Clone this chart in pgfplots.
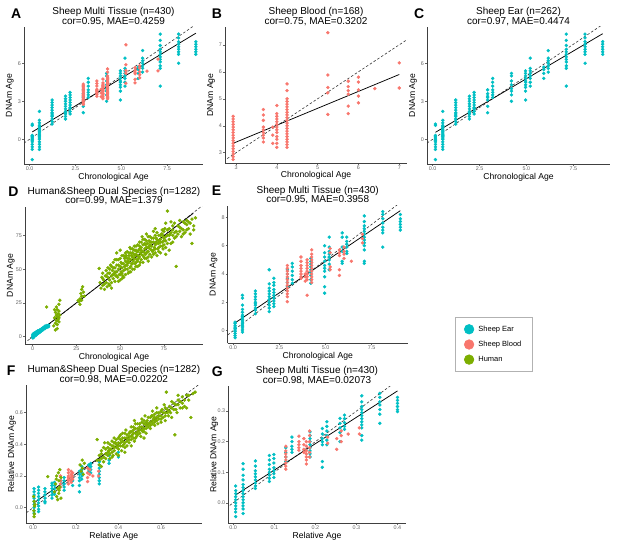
\documentclass[border=0pt]{standalone}
\usepackage{fontspec}
\setmainfont{Liberation Sans}
\usepackage{pgfplots}
\usepackage{pgfplotstable}
\pgfplotsset{compat=1.18}
\definecolor{cear}{HTML}{00BFC4}
\definecolor{cblood}{HTML}{F8766D}
\definecolor{chum}{HTML}{7CAE00}

\pgfplotsset{
 panel/.style={
  scale only axis, anchor=south west,
  axis x line*=bottom, axis y line*=left,
  axis line style={black!75, line width=0.55pt},
  tick align=outside, major tick length=2pt,
  every tick/.style={black!60, line width=0.5pt},
  ticklabel style={font=\fontsize{5.4}{5.4}\selectfont, text=black!60},
  xticklabel style={inner sep=0.7pt},
  yticklabel style={inner sep=1pt},
  every axis title/.style={font=\fontsize{10}{9.5}\selectfont, align=center, at={(axis description cs:0.5,1)}, anchor=south, inner sep=0pt, yshift=1.3pt},
  xlabel style={font=\fontsize{8.6}{9}\selectfont, at={([yshift=-15pt]axis description cs:0.5,0)}, anchor=base, inner sep=0pt},
  ylabel style={font=\fontsize{8.6}{9}\selectfont, at={([xshift=-12pt]axis description cs:0,0.5)}, anchor=base, inner sep=0pt},
 },
 ear/.style={only marks, mark=*, mark size=1.5pt, color=cear, mark options={draw=none}},
 blood/.style={only marks, mark=*, mark size=1.5pt, color=cblood, mark options={draw=none}},
 hum/.style={only marks, mark=*, mark size=1.5pt, color=chum, mark options={draw=none}},
 fit/.style={black, line width=0.75pt, no marks},
 idl/.style={black!80, line width=0.6pt, dash pattern=on 2.5pt off 2pt, no marks},
}

\pgfplotstableread[row sep=\\]{
x y\\
0.15 1.2\\0.15 1.1\\0.15 0.3\\0.15 0.1\\0.15 0.0\\0.15 -0.2\\0.15 -0.4\\0.15 -0.6\\0.15 -0.8\\0.15 -1.6\\0.15 0.2\\0.15 -0.1\\
0.54 2.2\\0.54 1.5\\0.54 1.3\\0.54 1.0\\0.54 0.8\\0.54 0.6\\0.54 0.5\\0.54 0.4\\0.54 0.3\\0.54 0.2\\0.54 0.1\\0.54 0\\0.54 -0.2\\0.54 -0.4\\0.54 -0.6\\0.54 -0.8\\0.54 0.7\\0.54 0.9\\0.54 1.1\\
1.23 3.1\\1.23 2.9\\1.23 2.7\\1.23 2.5\\1.23 2.3\\1.23 2.1\\1.23 2.0\\1.23 1.9\\1.23 1.8\\1.23 1.6\\1.23 1.4\\1.23 1.2\\
1.96 3.4\\1.96 3.2\\1.96 3.0\\1.96 2.8\\1.96 2.6\\1.96 2.4\\1.96 2.2\\1.96 2.1\\1.96 2.0\\1.96 1.8\\1.96 1.6\\
2.21 3.7\\2.21 3.5\\2.21 3.3\\2.21 3.1\\2.21 2.9\\2.21 2.7\\2.21 2.5\\2.21 2.4\\2.21 2.2\\2.21 2.0\\
2.93 3.9\\2.93 3.6\\2.93 3.4\\2.93 3.3\\2.93 3.1\\2.93 2.6\\2.93 2.1\\
3.2 4.8\\3.2 4.5\\3.2 4.2\\3.2 3.9\\3.2 3.7\\3.2 3.5\\3.2 3.3\\
4.2 5.2\\4.2 5.0\\4.2 4.6\\4.2 4.3\\4.2 4.0\\4.2 3.8\\4.2 3.5\\4.2 3.0\\
4.95 5.4\\4.95 5.2\\4.95 5.0\\4.95 4.8\\4.95 4.6\\4.95 4.5\\4.95 4.3\\4.95 4.1\\4.95 3.8\\4.95 3.1\\
5.2 6.4\\5.2 5.6\\5.2 5.4\\5.2 5.2\\5.2 5.0\\5.2 4.8\\5.2 4.5\\5.2 4.2\\
5.92 5.7\\5.92 5.5\\5.92 5.2\\5.92 4.8\\
6.16 7.0\\6.16 6.4\\6.16 6.2\\6.16 6.0\\6.16 5.8\\6.16 5.6\\6.16 5.3\\
7.12 8.3\\7.12 7.8\\7.12 7.4\\7.12 7.1\\7.12 6.9\\7.12 6.7\\7.12 6.5\\7.12 6.3\\7.12 6.1\\7.12 5.8\\7.12 5.6\\7.12 4.2\\
8.12 8.3\\8.12 8.0\\8.12 7.7\\8.12 7.5\\8.12 7.3\\8.12 7.1\\8.12 6.9\\8.12 6.7\\8.12 6.0\\
9.06 7.7\\9.06 7.5\\9.06 7.3\\9.06 7.1\\9.06 6.9\\9.06 6.7\\
}\earAC

\pgfplotstableread[row sep=\\]{
x y\\
2.93 4.35\\2.93 4.25\\2.93 4.15\\2.93 4.05\\2.93 3.95\\2.93 3.85\\2.93 3.75\\2.93 3.65\\2.93 3.55\\2.93 3.45\\2.93 3.35\\2.93 3.25\\2.93 3.15\\2.93 3.05\\2.93 2.95\\2.93 2.85\\2.93 2.75\\
3.67 4.6\\3.67 4.4\\3.67 4.2\\3.67 3.95\\3.67 3.85\\3.67 3.75\\3.67 3.65\\3.67 3.55\\3.67 3.4\\
3.9 3.95\\3.9 3.65\\3.9 3.35\\
4.0 4.75\\4.0 4.45\\4.0 4.35\\4.0 4.25\\4.0 4.15\\4.0 4.05\\4.0 3.95\\4.0 3.85\\4.0 3.75\\4.0 3.6\\4.0 3.5\\4.0 3.35\\4.0 3.2\\
4.25 5.55\\4.25 5.3\\4.25 5.0\\4.25 4.9\\4.25 4.8\\4.25 4.7\\4.25 4.6\\4.25 4.5\\4.25 4.4\\4.25 4.3\\4.25 4.2\\4.25 4.1\\4.25 4.0\\4.25 3.9\\4.25 3.8\\4.25 3.7\\4.25 3.6\\4.25 3.5\\4.25 3.4\\4.25 3.3\\4.25 3.2\\
5.25 7.45\\5.25 5.88\\5.25 5.42\\5.25 5.22\\5.25 4.42\\
5.75 5.65\\5.75 5.45\\5.75 5.3\\5.75 5.17\\5.75 4.73\\5.75 4.45\\
6.0 5.8\\6.0 5.62\\6.0 5.33\\6.0 5.1\\6.0 4.85\\
6.4 5.38\\
7.0 6.33\\7.0 5.4\\
}\bloodAB

\pgfplotstableread[row sep=\\]{
x y\\
0.1 0.6\\0.1 0.5\\0.1 0.35\\0.1 0.25\\0.1 0.15\\0.1 0.05\\0.1 -0.05\\0.1 -0.2\\0.1 -0.35\\0.1 -0.5\\
0.5 2.5\\0.5 2.3\\0.5 1.8\\0.5 1.5\\0.5 1.3\\0.5 1.1\\0.5 1.0\\0.5 0.9\\0.5 0.8\\0.5 0.7\\0.5 0.6\\0.5 0.5\\0.5 0.4\\0.5 0.3\\0.5 0.2\\0.5 0.05\\0.5 -0.1\\
1.2 2.8\\1.2 2.6\\1.2 2.4\\1.2 2.2\\1.2 2.0\\1.2 1.9\\1.2 1.8\\1.2 1.6\\1.2 1.45\\1.2 1.2\\
1.95 4.3\\1.95 3.3\\1.95 3.0\\1.95 2.8\\1.95 2.6\\1.95 2.4\\1.95 2.2\\1.95 2.0\\1.95 1.8\\1.95 1.6\\1.95 1.35\\
2.2 3.7\\2.2 3.4\\2.2 3.2\\2.2 2.9\\2.2 2.7\\2.2 2.5\\2.2 2.3\\2.2 2.1\\2.2 1.9\\2.2 1.7\\
2.93 4.3\\2.93 4.0\\2.93 3.7\\2.93 3.4\\2.93 3.1\\
3.2 4.75\\3.2 4.5\\3.2 4.2\\3.2 3.9\\3.2 3.6\\3.2 3.35\\
4.2 5.1\\4.2 4.9\\4.2 4.7\\4.2 4.5\\4.2 4.3\\4.2 4.1\\4.2 3.9\\4.2 3.6\\4.2 3.35\\
4.95 6.0\\4.95 5.5\\4.95 5.2\\4.95 4.9\\4.95 4.6\\4.95 4.4\\4.95 4.2\\4.95 3.8\\4.95 3.1\\4.95 2.65\\
5.2 6.6\\5.2 5.9\\5.2 5.6\\5.2 5.4\\5.2 5.2\\5.2 5.0\\5.2 4.7\\5.2 4.3\\
5.9 6.9\\5.9 6.6\\5.9 5.9\\5.9 5.6\\5.9 4.9\\5.9 4.75\\
6.15 6.6\\6.15 6.3\\6.15 6.1\\6.15 5.9\\6.15 5.6\\6.15 5.45\\
7.1 8.1\\7.1 7.7\\7.1 7.4\\7.1 7.2\\7.1 7.0\\7.1 6.8\\7.1 6.6\\7.1 6.4\\7.1 6.2\\7.1 6.0\\7.1 5.7\\7.1 4.9\\7.1 4.75\\
8.1 8.4\\8.1 8.2\\8.1 7.9\\8.1 7.6\\8.1 7.3\\8.1 7.1\\8.1 6.9\\8.1 5.9\\
9.05 8.2\\9.05 7.9\\9.05 7.7\\9.05 7.5\\9.05 7.3\\9.05 7.1\\
}\earE

\pgfplotstableread[row sep=\\]{
x y\\
2.93 4.6\\2.93 4.4\\2.93 4.2\\2.93 4.0\\2.93 3.8\\2.93 3.6\\2.93 3.4\\2.93 3.2\\2.93 3.0\\2.93 2.8\\2.93 2.6\\2.93 2.4\\2.93 2.05\\
3.67 5.2\\3.67 4.9\\3.67 4.6\\3.67 4.4\\3.67 4.2\\3.67 4.0\\3.67 3.8\\3.67 3.7\\
3.9 4.0\\3.9 3.8\\3.9 3.5\\
4.0 5.0\\4.0 4.8\\4.0 4.6\\4.0 4.4\\4.0 4.2\\4.0 4.0\\4.0 3.8\\4.0 3.6\\4.0 2.5\\
4.25 5.7\\4.25 5.4\\4.25 5.2\\4.25 5.0\\4.25 4.8\\4.25 4.6\\4.25 4.4\\4.25 4.2\\4.25 4.0\\4.25 3.8\\4.25 3.6\\4.25 3.4\\
5.25 5.8\\5.25 5.5\\5.25 4.5\\5.25 4.3\\
5.75 5.7\\5.75 5.5\\5.75 5.3\\5.75 4.3\\5.75 3.9\\
6.0 5.9\\6.0 5.6\\6.0 5.4\\6.0 5.1\\
6.4 4.9\\
7.0 6.8\\7.0 6.5\\7.0 6.2\\
}\bloodE

\pgfplotstableread[row sep=\\]{
x y\\
0.1 -1\\0.1 -0.3\\0.1 0.4\\0.1 1.1\\0.1 1.8\\0.5 -0.5\\0.5 0.3\\0.5 1.0\\0.5 1.6\\0.5 2.4\\
1.2 0.6\\1.2 1.3\\1.2 2.0\\1.2 2.8\\1.95 1.2\\1.95 2.0\\1.95 2.7\\1.95 3.4\\2.2 1.6\\2.2 2.4\\2.2 3.1\\2.2 3.8\\
2.9 2.3\\2.9 3.0\\2.9 3.7\\2.9 4.3\\3.2 2.6\\3.2 3.4\\3.2 4.1\\3.67 3.1\\3.67 3.8\\3.67 4.5\\4.0 3.3\\4.0 4.0\\4.0 4.8\\
4.2 3.6\\4.2 4.4\\4.2 5.1\\4.95 4.2\\4.95 5.0\\4.95 5.7\\5.2 4.5\\5.2 5.3\\5.2 6.0\\5.9 5.2\\5.9 5.9\\5.9 6.6\\
6.15 5.4\\6.15 6.2\\6.15 6.9\\7.1 6.1\\7.1 6.8\\7.1 7.5\\7.1 8.0\\8.1 6.9\\8.1 7.6\\8.1 8.3\\9.05 7.4\\9.05 8.0\\9.05 8.6\\
}\earD

\pgfplotstableread[row sep=\\]{
x y\\
2.9 3\\4.0 4\\4.25 4.5\\5.25 5.5\\7 6.5\\
}\bloodD

\pgfplotstableread[row sep=\\]{
x y\\
12 8\\12.5 14\\13 10\\13 18\\13.5 12\\13.5 22\\14 15\\14 9\\14 20\\14.5 13\\14.5 17\\15 24\\15 11\\15 19\\15.5 16\\15.5 27\\14 6\\13 5\\12.5 20\\15 14\\14 12\\13.5 16\\8 22\\
27 28\\27.5 32\\28 35\\28 30\\28.5 37\\29 33\\26.5 26\\27 24\\29.5 30\\28 27\\26 26.8\\
38 50.5\\38.5 40\\39 36\\39.5 44\\40 38\\40 47\\40.5 42\\41 35\\41.5 45\\42 40\\42 49\\42.5 37\\
43 44\\43 51\\43.5 39\\44 47\\44 42\\44.5 53\\45 45\\45 40\\45.5 49\\46 43\\46 55\\46.5 47\\47 51\\47 41\\47.5 45\\45 36\\46 51\\47 57\\
48 48\\48 53\\48.5 44\\49 50\\49 57\\49.5 46\\50 52\\50 42\\50.5 55\\50.5 48\\51 60\\51 51\\51.5 45\\52 54\\52 49\\52.5 58\\48 62\\49 41\\50 64\\51 47\\52 44\\52.5 52\\
53 56\\53 50\\53.5 60\\54 53\\54 58\\54.5 47\\55 55\\55 62\\55.5 51\\56 57\\56 65\\56.5 54\\57 59\\57 50\\53 46\\54 63\\55 58\\56 52\\57 62\\57.5 56\\55.5 66\\54.5 56\\53.5 53\\56.5 60\\
58 58\\58 64\\58.5 54\\59 61\\59 67\\59.5 57\\60 60\\60 52\\60.5 64\\61 59\\61 70\\61.5 62\\62 57\\62 66\\58 50\\59 55\\60 68\\60.5 58\\61 65\\62 61\\62.5 74\\59.5 63\\58.5 60\\61.5 55\\
63 63\\63 68\\63.5 59\\64 65\\64 72\\64.5 61\\65 66\\65 58\\65.5 69\\66 63\\66 74\\66.5 67\\67 61\\67 70\\63 55\\64 62\\65 76\\66 59\\67 65\\64.5 68\\66.5 71\\65.5 63\\
68 67\\68 73\\68.5 63\\69 70\\69 78\\69.5 66\\70 68\\70 62\\70.5 73\\71 69\\71 77\\71.5 65\\72 71\\72 66\\68 59\\70 80\\71 60\\72 75\\69 64\\70.5 70\\
73 72\\73 67\\73.5 76\\74 70\\74 79\\74.5 65\\75 73\\75 68\\75.5 80\\76 71\\76 66\\77 75\\77 93\\73 62\\76 84\\74.5 74\\78 64\\76 61\\
78 72\\78 80\\78.5 76\\79 69\\79 85\\80 75\\80 79\\81 73\\81 84\\82 52\\82 78\\80 70\\
83 76\\84 81\\84 86\\85 74\\86 79\\86 85\\87 77\\88 83\\88 86\\89 80\\90 84\\91 69\\92 82\\93 88\\90 76\\
40 43\\41 39\\42 45\\43 47\\44 38\\44 50\\45 52\\46 46\\47 48\\48 45\\48 57\\49 53\\50 46\\50 58\\51 54\\51 43\\52 60\\53 59\\53 62\\54 50\\54 55\\55 48\\55 60\\56 62\\56 48\\57 54\\57 65\\58 61\\58 67\\59 52\\
59 64\\60 63\\60 56\\61 53\\61 67\\62 64\\62 70\\63 60\\63 72\\64 58\\64 69\\65 62\\65 71\\66 66\\66 56\\67 68\\67 74\\68 70\\68 64\\69 73\\69 61\\70 65\\70 75\\71 72\\72 69\\72 63\\73 75\\73 70\\74 67\\74 76\\
75 78\\75 71\\76 74\\77 69\\77 79\\78 75\\79 77\\80 82\\81 77\\82 74\\83 82\\84 78\\85 80\\86 76\\87 84\\88 79\\89 85\\91 87\\92 79\\
}\humD

\pgfplotstableread[row sep=\\]{
x y\\
0.004 0.12\\0.004 0.1\\0.004 0.08\\0.004 0.06\\0.004 0.04\\0.004 0.02\\0.004 0.0\\0.004 -0.02\\0.004 -0.035\\
0.025 0.13\\0.025 0.11\\0.025 0.09\\0.025 0.07\\0.025 0.05\\0.025 0.03\\0.025 0.01\\0.025 -0.01\\0.025 -0.025\\
0.055 0.12\\0.055 0.1\\0.055 0.08\\0.055 0.06\\0.055 0.04\\0.055 0.03\\
0.088 0.155\\0.088 0.14\\0.088 0.12\\0.088 0.1\\0.088 0.08\\0.088 0.06\\
0.1 0.16\\0.1 0.14\\0.1 0.12\\0.1 0.1\\0.1 0.085\\0.13 0.17\\0.13 0.15\\
0.145 0.19\\0.145 0.17\\0.145 0.15\\0.145 0.13\\0.145 0.11\\0.185 0.2\\0.185 0.17\\0.185 0.14\\
0.217 0.23\\0.217 0.21\\0.217 0.19\\0.217 0.17\\0.217 0.14\\0.217 0.1\\
0.228 0.26\\0.228 0.24\\0.228 0.22\\0.228 0.2\\0.228 0.18\\0.26 0.27\\0.26 0.25\\0.26 0.23\\
0.27 0.28\\0.27 0.26\\0.27 0.24\\0.27 0.22\\
0.31 0.29\\0.31 0.27\\0.31 0.25\\0.31 0.23\\0.31 0.21\\0.31 0.19\\0.31 0.17\\0.31 0.15\\
0.356 0.33\\0.356 0.3\\0.356 0.28\\0.4 0.35\\0.4 0.32\\
}\earF

\pgfplotstableread[row sep=\\]{
x y\\
0.128 0.2\\0.128 0.17\\0.128 0.15\\0.128 0.13\\
0.165 0.24\\0.165 0.22\\0.165 0.2\\0.165 0.19\\0.165 0.18\\0.165 0.17\\0.165 0.15\\
0.178 0.23\\0.178 0.21\\0.178 0.19\\0.178 0.17\\0.178 0.16\\0.185 0.22\\0.185 0.2\\0.185 0.18\\
0.255 0.25\\0.255 0.22\\0.255 0.19\\0.255 0.165\\0.265 0.24\\0.265 0.21\\0.28 0.2\\0.307 0.23\\0.307 0.2\\
}\bloodF

\pgfplotstableread[row sep=\\]{
x y\\
0.002 0.07\\0.004 0.04\\0.006 0.01\\0.003 -0.02\\0.005 -0.04\\0.004 -0.057\\0.008 0.02\\0.068 0.196\\
0.1 0.1\\0.105 0.15\\0.11 0.07\\0.11 0.2\\0.115 0.12\\0.115 0.05\\0.12 0.17\\0.12 0.09\\0.125 0.24\\0.125 0.13\\0.13 0.19\\0.13 0.06\\0.118 0.22\\0.108 0.18\\0.122 0.11\\
0.22 0.27\\0.225 0.23\\0.23 0.3\\0.23 0.25\\0.235 0.21\\0.24 0.28\\
0.30 0.30\\0.31 0.33\\0.31 0.27\\0.32 0.36\\0.32 0.31\\0.33 0.29\\0.33 0.38\\0.34 0.34\\0.34 0.31\\0.335 0.41\\0.32 0.26\\0.3 0.43\\
0.35 0.33\\0.35 0.38\\0.355 0.36\\0.36 0.40\\0.36 0.34\\0.365 0.37\\0.37 0.42\\0.37 0.35\\0.375 0.39\\0.38 0.36\\0.38 0.44\\0.385 0.41\\0.39 0.38\\0.39 0.34\\0.36 0.31\\0.375 0.33\\
0.40 0.41\\0.40 0.37\\0.405 0.45\\0.41 0.39\\0.41 0.43\\0.415 0.36\\0.42 0.42\\0.42 0.47\\0.425 0.40\\0.43 0.44\\0.43 0.38\\0.435 0.49\\0.44 0.42\\0.44 0.46\\0.40 0.33\\0.43 0.35\\
0.45 0.45\\0.45 0.41\\0.455 0.48\\0.46 0.43\\0.46 0.51\\0.465 0.46\\0.47 0.44\\0.47 0.49\\0.475 0.42\\0.48 0.47\\0.48 0.53\\0.485 0.45\\0.49 0.50\\0.49 0.46\\0.46 0.39\\0.475 0.55\\
0.50 0.49\\0.50 0.53\\0.505 0.45\\0.51 0.51\\0.51 0.56\\0.515 0.48\\0.52 0.53\\0.52 0.50\\0.525 0.58\\0.53 0.52\\0.53 0.47\\0.535 0.55\\0.54 0.51\\0.54 0.57\\0.52 0.44\\
0.55 0.54\\0.55 0.50\\0.555 0.58\\0.56 0.53\\0.56 0.61\\0.565 0.56\\0.57 0.52\\0.57 0.59\\0.575 0.55\\0.58 0.57\\0.58 0.63\\0.585 0.53\\0.59 0.60\\0.59 0.56\\
0.60 0.58\\0.60 0.54\\0.605 0.62\\0.61 0.57\\0.615 0.65\\0.62 0.60\\0.62 0.55\\0.625 0.73\\0.63 0.62\\0.635 0.58\\0.64 0.64\\0.645 0.60\\0.65 0.67\\0.65 0.57\\
0.66 0.62\\0.665 0.46\\0.67 0.65\\0.675 0.60\\0.68 0.68\\0.69 0.63\\0.70 0.70\\0.70 0.66\\0.71 0.64\\0.72 0.71\\0.73 0.68\\0.74 0.57\\0.75 0.72\\0.76 0.73\\0.72 0.63\\0.68 0.71\\
0.31 0.30\\0.32 0.34\\0.33 0.32\\0.34 0.37\\0.35 0.35\\0.35 0.41\\0.36 0.37\\0.37 0.39\\0.37 0.32\\0.38 0.41\\0.38 0.38\\0.39 0.43\\0.39 0.40\\0.40 0.44\\0.40 0.39\\0.41 0.41\\0.41 0.46\\0.42 0.39\\0.42 0.44\\0.43 0.41\\0.43 0.47\\0.44 0.44\\
0.44 0.39\\0.45 0.47\\0.45 0.43\\0.46 0.45\\0.46 0.48\\0.47 0.47\\0.47 0.51\\0.48 0.44\\0.48 0.50\\0.49 0.48\\0.49 0.53\\0.50 0.51\\0.50 0.47\\0.51 0.54\\0.51 0.49\\0.52 0.55\\0.52 0.48\\0.53 0.54\\0.53 0.50\\0.54 0.53\\0.55 0.57\\0.55 0.52\\
0.56 0.55\\0.56 0.58\\0.57 0.57\\0.57 0.54\\0.58 0.55\\0.58 0.60\\0.59 0.58\\0.60 0.61\\0.60 0.56\\0.61 0.60\\0.62 0.63\\0.62 0.58\\0.63 0.60\\0.64 0.61\\0.65 0.63\\0.66 0.66\\0.67 0.62\\0.68 0.65\\0.69 0.67\\0.70 0.63\\0.71 0.68\\0.73 0.71\\
}\humF

\pgfplotstableread[row sep=\\]{
x y\\
0.006 0.055\\0.006 0.04\\0.006 0.03\\0.006 0.02\\0.006 0.01\\0.006 0.0\\0.006 -0.01\\0.006 -0.02\\0.006 -0.03\\0.006 -0.045\\
0.024 0.128\\0.024 0.11\\0.024 0.09\\0.024 0.075\\0.024 0.06\\0.024 0.05\\0.024 0.04\\0.024 0.03\\0.024 0.02\\0.024 0.01\\0.024 0.0\\0.024 -0.01\\0.024 -0.02\\0.024 -0.035\\
0.054 0.137\\0.054 0.12\\0.054 0.105\\0.054 0.095\\0.054 0.085\\0.054 0.075\\0.054 0.065\\0.054 0.055\\0.054 0.047\\
0.088 0.155\\0.088 0.14\\0.088 0.125\\0.088 0.11\\0.088 0.1\\0.088 0.09\\0.088 0.08\\0.088 0.07\\
0.099 0.158\\0.099 0.145\\0.099 0.13\\0.099 0.115\\0.099 0.105\\0.099 0.095\\0.099 0.083\\
0.128 0.18\\0.128 0.165\\0.128 0.15\\0.128 0.135\\
0.143 0.215\\0.143 0.2\\0.143 0.185\\0.143 0.175\\0.143 0.165\\
0.187 0.232\\0.187 0.22\\0.187 0.21\\0.187 0.2\\0.187 0.19\\0.187 0.18\\0.187 0.17\\0.187 0.16\\0.187 0.15\\
0.217 0.243\\0.217 0.225\\0.217 0.21\\0.217 0.2\\0.217 0.19\\0.217 0.135\\0.217 0.116\\
0.228 0.265\\0.228 0.25\\0.228 0.235\\0.228 0.22\\0.228 0.205\\0.228 0.19\\
0.26 0.276\\0.26 0.26\\0.26 0.245\\0.26 0.23\\0.26 0.2\\
0.271 0.287\\0.271 0.275\\0.271 0.262\\0.271 0.25\\0.271 0.24\\
0.313 0.35\\0.313 0.33\\0.313 0.315\\0.313 0.305\\0.313 0.295\\0.313 0.285\\0.313 0.275\\0.313 0.265\\0.313 0.255\\0.313 0.245\\0.313 0.22\\0.313 0.205\\
0.357 0.358\\0.357 0.345\\0.357 0.33\\0.357 0.32\\0.357 0.305\\0.357 0.29\\0.357 0.26\\
0.4 0.345\\0.4 0.335\\0.4 0.325\\0.4 0.315\\0.4 0.305\\0.4 0.298\\
}\earG

\pgfplotstableread[row sep=\\]{
x y\\
0.128 0.185\\0.128 0.17\\0.128 0.16\\0.128 0.15\\0.128 0.14\\0.128 0.13\\0.128 0.12\\0.128 0.11\\
0.16 0.218\\0.16 0.2\\0.16 0.19\\0.16 0.18\\0.16 0.172\\
0.172 0.21\\0.172 0.19\\0.172 0.175\\0.172 0.165\\
0.178 0.2\\0.178 0.185\\0.178 0.17\\0.178 0.16\\0.178 0.15\\0.178 0.14\\0.178 0.127\\
0.186 0.235\\0.186 0.22\\0.186 0.2\\0.186 0.18\\0.186 0.165\\0.186 0.15\\
0.23 0.215\\0.23 0.195\\0.252 0.21\\0.252 0.175\\0.263 0.235\\0.263 0.22\\0.263 0.2\\0.28 0.225\\0.307 0.245\\0.307 0.225\\
}\bloodG

\begin{document}
\begin{tikzpicture}
\useasboundingbox (0,0) rectangle (617pt,-553pt);

% A
\begin{axis}[panel, at={(24pt,-164pt)}, width=179pt, height=137pt,
 xmin=-0.3, xmax=9.45, ymin=-1.95, ymax=8.86,
 xtick={0,2.5,5,7.5}, xticklabels={0.0,2.5,5.0,7.5}, ytick={0,3,6}, yticklabels={0,3,6},
 title={Sheep Multi Tissue (n=430)\\cor=0.95, MAE=0.4259},
 xlabel={Chronological Age}, ylabel={DNAm Age}]
\addplot[ear] table {\earAC};
\addplot[blood] table {\bloodAB};
\addplot[idl] coordinates {(-0.3,-0.3) (9.45,9.45)};
\addplot[fit] coordinates {(0.15,0.58) (9.06,8.37)};
\end{axis}

% B
\begin{axis}[panel, at={(225pt,-163pt)}, width=182pt, height=136pt,
 xmin=2.73, xmax=7.19, ymin=2.62, ymax=7.66,
 xtick={3,4,5,6,7}, xticklabels={3,4,5,6,7}, ytick={3,4,5,6,7}, yticklabels={3,4,5,6,7},
 title={Sheep Blood (n=168)\\cor=0.75, MAE=0.3202},
 xlabel={Chronological Age}, ylabel={DNAm Age}]
\addplot[blood] table {\bloodAB};
\addplot[idl] coordinates {(2.6,2.6) (7.7,7.7)};
\addplot[fit] coordinates {(2.93,3.35) (7.0,5.9)};
\end{axis}

% C
\begin{axis}[panel, at={(427pt,-164pt)}, width=183pt, height=137pt,
 xmin=-0.3, xmax=9.45, ymin=-1.95, ymax=8.86,
 xtick={0,2.5,5,7.5}, xticklabels={0.0,2.5,5.0,7.5}, ytick={0,3,6}, yticklabels={0,3,6},
 title={Sheep Ear (n=262)\\cor=0.97, MAE=0.4474},
 xlabel={Chronological Age}, ylabel={DNAm Age}]
\addplot[ear] table {\earAC};
\addplot[idl] coordinates {(-0.3,-0.3) (9.45,9.45)};
\addplot[fit] coordinates {(0.15,0.55) (9.06,8.33)};
\end{axis}

% D
\begin{axis}[panel, at={(25pt,-344.3pt)}, width=178pt, height=137.6pt,
 xmin=-4.4, xmax=97.3, ymin=-5.6, ymax=96.2,
 xtick={0,25,50,75}, xticklabels={0,25,50,75}, ytick={0,25,50,75}, yticklabels={0,25,50,75},
 title={Human\&Sheep Dual Species (n=1282)\\cor=0.99, MAE=1.379},
 xlabel={Chronological Age}, ylabel={DNAm Age}]
\addplot[blood] table {\bloodD};
\addplot[ear] table {\earD};
\addplot[hum] table {\humD};
\addplot[idl] coordinates {(-5,-5) (98,98)};
\addplot[fit] coordinates {(-1.5,-1.2) (91.7,91.3)};
\end{axis}

% E
\begin{axis}[panel, at={(227.7pt,-343.3pt)}, width=180pt, height=137.6pt,
 xmin=-0.3, xmax=9.45, ymin=-0.89, ymax=8.82,
 xtick={0,2.5,5,7.5}, xticklabels={0.0,2.5,5.0,7.5}, ytick={0,2,4,6,8}, yticklabels={0,2,4,6,8},
 title={Sheep Multi Tissue (n=430)\\cor=0.95, MAE=0.3958},
 xlabel={Chronological Age}, ylabel={DNAm Age}]
\addplot[ear] table {\earE};
\addplot[blood] table {\bloodE};
\addplot[idl] coordinates {(-0.3,-0.3) (9.45,9.45)};
\addplot[fit] coordinates {(0.1,0.55) (9.05,8.47)};
\end{axis}

% F
\begin{axis}[panel, at={(26pt,-523.3pt)}, width=175.7pt, height=138.3pt,
 xmin=-0.034, xmax=0.791, ymin=-0.099, ymax=0.775,
 xtick={0,0.2,0.4,0.6}, xticklabels={0.0,0.2,0.4,0.6}, ytick={0,0.2,0.4,0.6}, yticklabels={0.0,0.2,0.4,0.6},
 title={Human\&Sheep Dual Species (n=1282)\\cor=0.98, MAE=0.02202},
 xlabel={Relative Age}, ylabel={Relative DNAm Age}]
\addplot[ear] table {\earF};
\addplot[blood] table {\bloodF};
\addplot[hum] table {\humF};
\addplot[idl] coordinates {(-0.1,-0.1) (0.8,0.8)};
\addplot[fit] coordinates {(0.0,0.027) (0.76,0.733)};
\end{axis}

% G
\begin{axis}[panel, at={(228.3pt,-523.3pt)}, width=177.4pt, height=137.3pt,
 xmin=-0.012, xmax=0.42, ymin=-0.067, ymax=0.382,
 xtick={0,0.1,0.2,0.3,0.4}, xticklabels={0.0,0.1,0.2,0.3,0.4}, ytick={0,0.1,0.2,0.3}, yticklabels={0.0,0.1,0.2,0.3},
 title={Sheep Multi Tissue (n=430)\\cor=0.98, MAE=0.02073},
 xlabel={Relative Age}, ylabel={Relative DNAm Age}]
\addplot[ear] table {\earG};
\addplot[blood] table {\bloodG};
\addplot[idl] coordinates {(-0.07,-0.07) (0.43,0.43)};
\addplot[fit] coordinates {(0.005,0.025) (0.4,0.366)};
\end{axis}

% legend
\begin{axis}[hide axis, scale only axis, width=10pt, height=10pt, xmin=0, xmax=1, ymin=0, ymax=1,
 at={(455pt,-317pt)}, anchor=north west,
 legend style={at={(0,1)}, anchor=north west, draw=black!30, line width=0.6pt,
   font=\fontsize{7.5}{9}\selectfont, inner xsep=9pt, inner ysep=6.5pt, row sep=4.3pt,
   cells={anchor=west}, /tikz/every odd column/.append style={column sep=2.5pt}},
 legend image code/.code={\draw[#1] plot coordinates {(0pt,0pt)};}]
\addlegendimage{only marks, mark=*, mark size=4.8pt, color=cear, mark options={draw=none}}
\addlegendentry{Sheep Ear}
\addlegendimage{only marks, mark=*, mark size=4.8pt, color=cblood, mark options={draw=none}}
\addlegendentry{Sheep Blood}
\addlegendimage{only marks, mark=*, mark size=4.8pt, color=chum, mark options={draw=none}}
\addlegendentry{Human}
\end{axis}

% panel letters
\node[font=\bfseries\fontsize{14}{14}\selectfont, anchor=base west, inner sep=0pt] at (11pt,-18.3pt) {A};
\node[font=\bfseries\fontsize{14}{14}\selectfont, anchor=base west, inner sep=0pt] at (211.7pt,-18.3pt) {B};
\node[font=\bfseries\fontsize{14}{14}\selectfont, anchor=base west, inner sep=0pt] at (414pt,-18.3pt) {C};
\node[font=\bfseries\fontsize{14}{14}\selectfont, anchor=base west, inner sep=0pt] at (8.3pt,-196.7pt) {D};
\node[font=\bfseries\fontsize{14}{14}\selectfont, anchor=base west, inner sep=0pt] at (211.7pt,-195pt) {E};
\node[font=\bfseries\fontsize{14}{14}\selectfont, anchor=base west, inner sep=0pt] at (6.7pt,-375pt) {F};
\node[font=\bfseries\fontsize{14}{14}\selectfont, anchor=base west, inner sep=0pt] at (211.7pt,-376.7pt) {G};
\end{tikzpicture}
\end{document}
